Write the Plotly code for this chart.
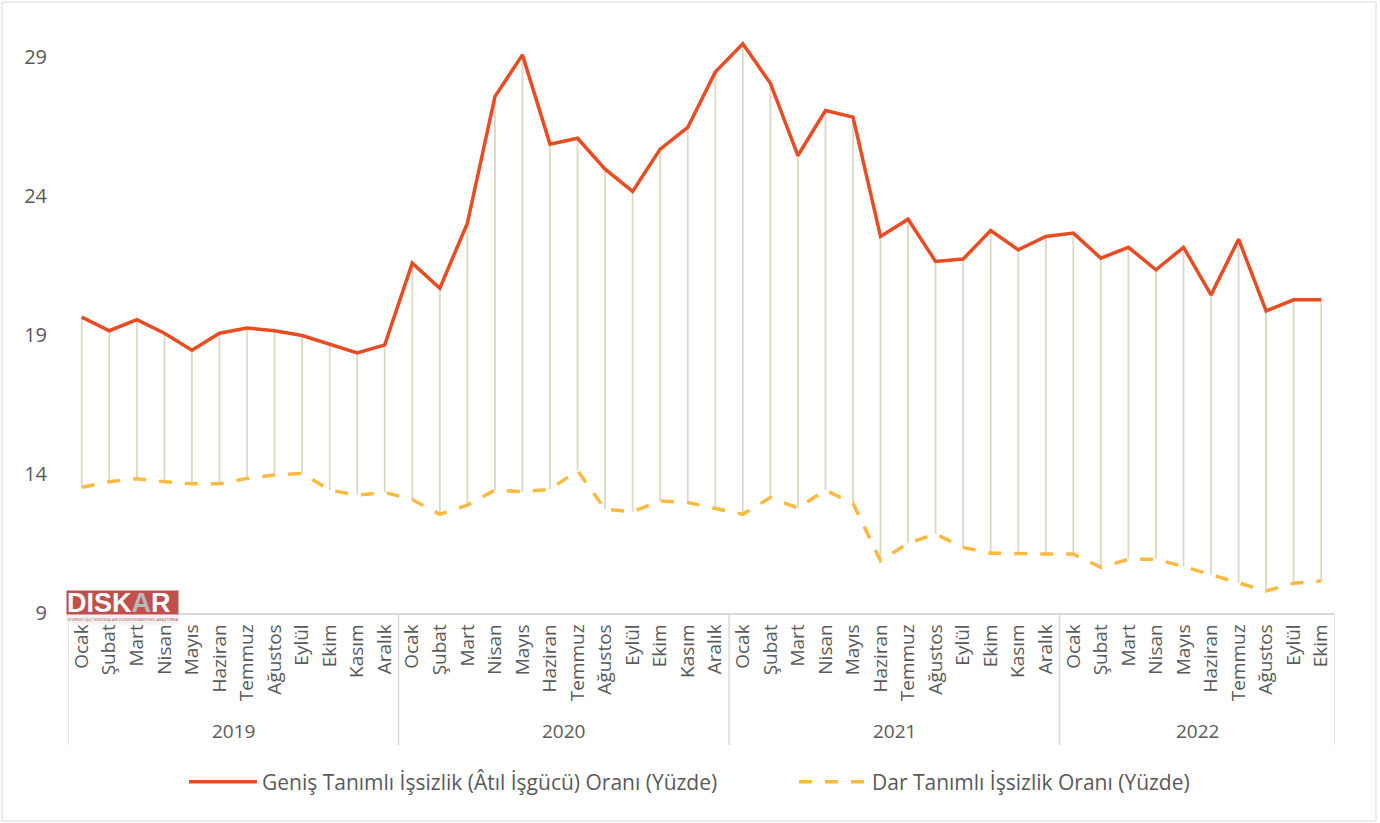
import plotly.graph_objects as go

years = ["2019", "2020", "2021", "2022"]
months_per_year = [12, 12, 12, 10]
months_full = ["Ocak", "Şubat", "Mart", "Nisan", "Mayıs", "Haziran", "Temmuz",
               "Ağustos", "Eylül", "Ekim", "Kasım", "Aralık"]
months = months_full * 3 + months_full[:10]

genis = [19.64, 19.15, 19.55, 19.06, 18.45, 19.06, 19.25, 19.15, 18.98, 18.65, 18.35, 18.64,
         21.58, 20.68, 23.02, 27.57, 29.07, 25.86, 26.07, 24.96, 24.16, 25.68, 26.46, 28.45,
         29.47, 28.05, 25.45, 27.07, 26.83, 22.54, 23.16, 21.64, 21.73, 22.75, 22.06, 22.54,
         22.66, 21.76, 22.15, 21.34, 22.15, 20.44, 22.44, 19.86, 20.26, 20.26]
dar = [13.52, 13.72, 13.83, 13.72, 13.65, 13.65, 13.84, 13.96, 14.02, 13.42, 13.24, 13.34,
       13.08, 12.55, 12.88, 13.42, 13.36, 13.45, 14.12, 12.73, 12.64, 13.03, 12.97, 12.77,
       12.55, 13.15, 12.77, 13.42, 12.94, 10.88, 11.51, 11.84, 11.36, 11.15, 11.12, 11.12,
       11.12, 10.64, 10.93, 10.93, 10.67, 10.37, 10.09, 9.79, 10.07, 10.15]
y_ticks = [9, 14, 19, 24, 29]

name_genis = "Geniş Tanımlı İşsizlik (Âtıl İşgücü) Oranı (Yüzde)"
name_dar = "Dar Tanımlı İşsizlik Oranı (Yüzde)"

RED = "#E84C22"
YEL = "#FFB93F"
DROP = "#DDD8C4"
GREY = "#595959"
AXIS = "#D9D9D9"
FONT = "Open Sans, sans-serif"

W, H = 1380, 823
ML, MR, MT, MB = 68, 45, 29, 210
PW, PH = W - ML - MR, H - MT - MB


def px_x(p):
    return (p - ML) / PW


def px_y(p):
    return (MT + PH - p) / PH


xi = list(range(len(months)))
diff = [g - d for g, d in zip(genis, dar)]

fig = go.Figure()
# drop lines from the wide rate down to the narrow rate
fig.add_trace(go.Scatter(
    x=xi, y=genis, mode="markers", marker=dict(size=0.1, opacity=0),
    showlegend=False, hoverinfo="skip",
    error_y=dict(type="data", symmetric=False, array=[0] * len(genis),
                 arrayminus=diff, color=DROP, thickness=1.8, width=0)))
fig.add_trace(go.Scatter(x=xi, y=genis, mode="lines", name=name_genis,
                         line=dict(color=RED, width=3.5), legend="legend"))
fig.add_trace(go.Scatter(x=xi, y=dar, mode="lines", name=name_dar,
                         line=dict(color=YEL, width=3.5, dash="13px,13px"),
                         legend="legend2"))

leg_common = dict(orientation="h", xanchor="left", yanchor="middle",
                  font=dict(size=21, color=GREY, family=FONT),
                  bgcolor="rgba(0,0,0,0)", itemwidth=68)
fig.update_layout(
    width=W, height=H,
    paper_bgcolor="white", plot_bgcolor="white",
    margin=dict(l=ML, r=MR, t=MT, b=MB, autoexpand=False),
    font=dict(family=FONT, color=GREY, size=19),
    legend=dict(x=px_x(184), y=px_y(782), **leg_common),
    legend2=dict(x=px_x(794), y=px_y(782), **leg_common),
    showlegend=True,
)
fig.update_yaxes(range=[9, 30], tickvals=y_ticks, showgrid=False, automargin=False,
                 zeroline=False, showline=False, ticklabelstandoff=20,
                 tickfont=dict(size=20, color=GREY, family=FONT))
fig.update_xaxes(range=[-0.5, len(months) - 0.5], tickvals=xi, ticktext=months,
                 showgrid=False, showline=True, zeroline=False, automargin=False,
                 linecolor=AXIS, linewidth=1.5, tickangle=-90, ticks="",
                 ticklabelstandoff=2,
                 tickfont=dict(size=19, color=GREY, family=FONT))

# year group labels and dividers
start = 0
bounds = [-0.5]
for yr, n in zip(years, months_per_year):
    fig.add_annotation(x=start + (n - 1) / 2, xref="x", y=px_y(731),
                       yref="paper", text=yr, showarrow=False, yanchor="middle",
                       font=dict(size=19, color=GREY, family=FONT))
    start += n
    bounds.append(start - 0.5)
for b in bounds:
    fig.add_shape(type="line", xref="x", yref="paper", x0=b, x1=b, y0=0,
                  y1=px_y(745), line=dict(color=AXIS, width=1.5))

# outer border
fig.add_shape(type="rect", xref="paper", yref="paper",
              x0=px_x(2), x1=px_x(1376), y0=px_y(821), y1=px_y(2),
              line=dict(color=AXIS, width=1), fillcolor="rgba(0,0,0,0)")

# logo
fig.add_annotation(xref="paper", yref="paper", x=px_x(66), y=px_y(590),
                   xanchor="left", yanchor="top", showarrow=False,
                   text="<b>DİSK<span style='color:#B8B8B8'>A</span>R</b>",
                   font=dict(family="Liberation Sans", size=27, color="white"),
                   bgcolor="#C0504D", borderpad=0, width=111, height=24,
                   align="left", valign="middle")
fig.add_annotation(xref="paper", yref="paper", x=px_x(66), y=px_y(614),
                   xanchor="left", yanchor="top", showarrow=False,
                   text="TÜRKİYE DEVRİMCİ İŞÇİ SENDİKALARI KONFEDERASYONU ARAŞTIRMA MERKEZİ",
                   font=dict(size=4, color="#C0504D"), width=111, height=9,
                   bgcolor="#F2F2F2", borderpad=0)

fig.write_html("out.html",
               config={"displayModeBar": False},
               post_script="document.body.style.margin='0';"
                           "document.body.style.overflow='hidden';")
